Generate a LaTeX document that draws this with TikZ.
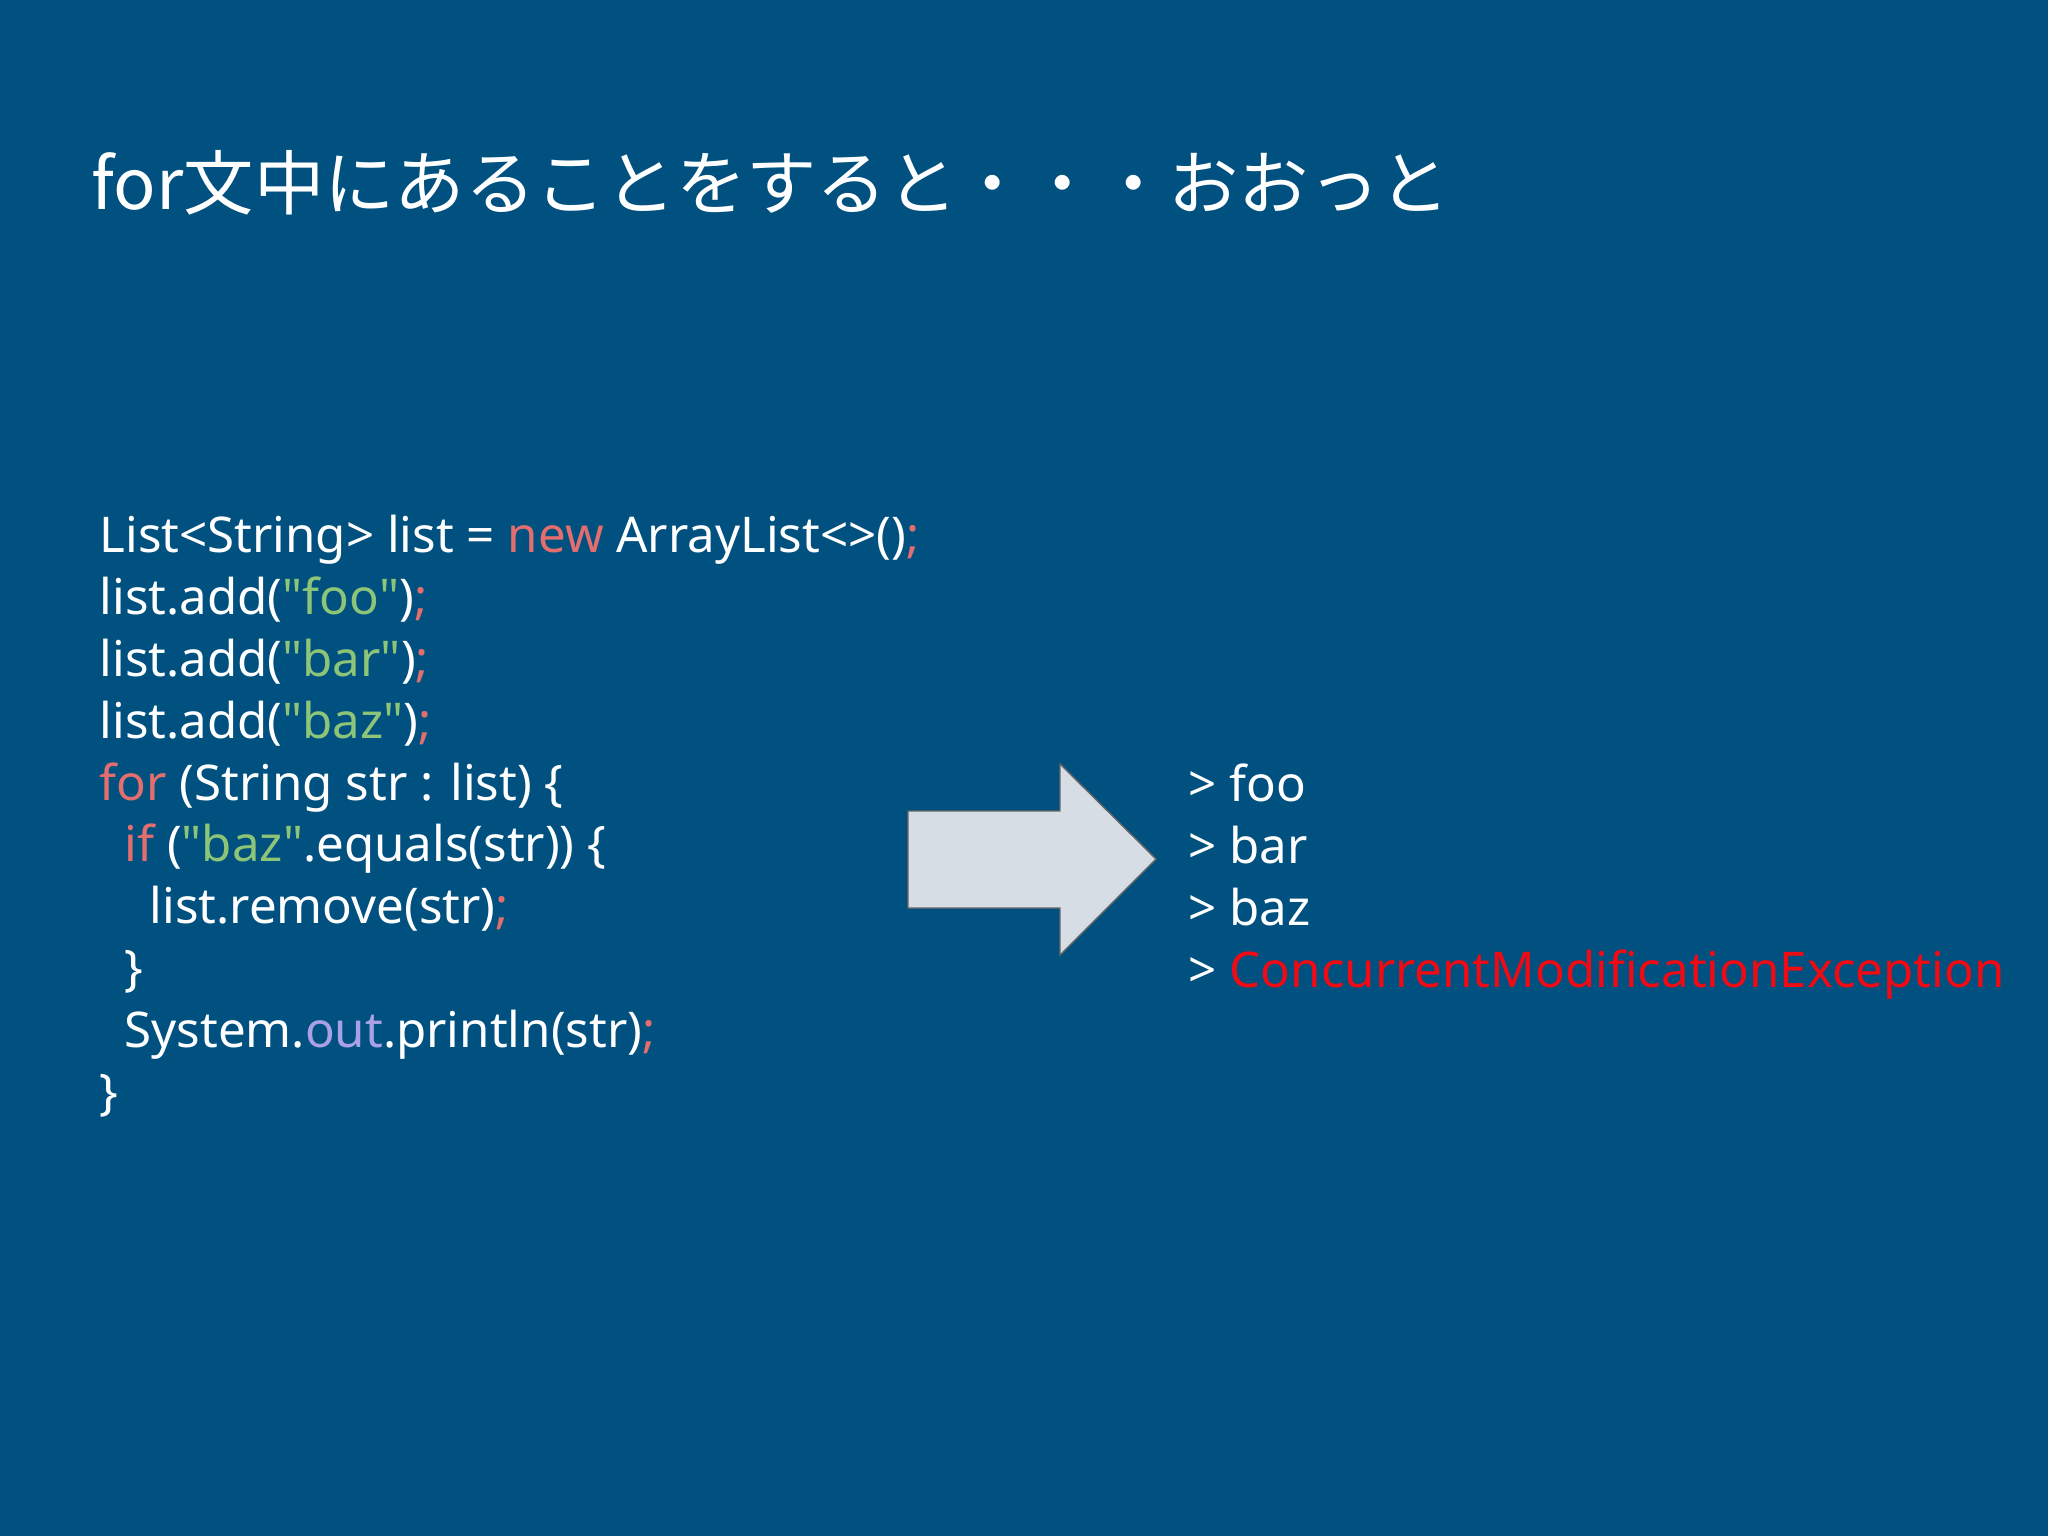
\documentclass[tikz,border=0pt]{standalone}
\usepackage{fontspec}
\setsansfont{Noto Sans}[Ligatures=ResetAll]
\newfontfamily\cjk{Noto Sans CJK JP}
\usetikzlibrary{positioning}
\definecolor{bg}{RGB}{0,80,128}
\definecolor{kw}{RGB}{226,110,110}
\definecolor{str}{RGB}{140,196,120}
\definecolor{fld}{RGB}{170,160,230}
\definecolor{err}{RGB}{240,10,20}
\definecolor{arr}{RGB}{214,221,228}
\newcommand{\K}[1]{\textcolor{kw}{#1}}
\newcommand{\St}[1]{\textcolor{str}{\textquotedbl#1\textquotedbl}}
\begin{document}
\begin{tikzpicture}[x=0.01cm,y=-0.01cm,
      code/.style={anchor=base west,inner sep=0pt,text=white,font=\sffamily\fontsize{14pt}{17pt}\selectfont},
      ]
        \fill [bg] (0,0) rectangle (2048,1536);
        \useasboundingbox (0,0) rectangle (2048,1536);
        % title
        \node [code,font=\cjk\fontsize{20pt}{24pt}\selectfont] (title) at (91,209)
          {for文中にあることをすると・・・おおっと};
        % code
        \node [code] (l1) at (99,552) {List<String> list = \K{new} ArrayList<>()\K{;}};
        \node [code] (l2) at (99,614) {list.add(\St{foo})\K{;}};
        \node [code] (l3) at (99,676) {list.add(\St{bar})\K{;}};
        \node [code] (l4) at (99,738) {list.add(\St{baz})\K{;}};
        \node [code] (l5) at (99,800) {\K{for} (String str : list) \{};
        \node [code] (l6) at (124,861) {\K{if} (\St{baz}.equals(str)) \{};
        \node [code] (l7) at (149,923) {list.remove(str)\K{;}};
        \node [code] (l8) at (124,985) {\}};
        \node [code] (l9) at (124,1047) {System.\textcolor{fld}{out}.println(str)\K{;}};
        \node [code] (l10) at (99,1109) {\}};
        % arrow
        \filldraw [fill=arr,draw=black!60,thin]
          (908,811) -- (1060,811) -- (1060,764) -- (1156,859)
          -- (1060,955) -- (1060,908) -- (908,908) -- cycle;
        % output
        \node [code] (o1) at (1188,801) {> foo};
        \node [code] (o2) at (1188,863) {> bar};
        \node [code] (o3) at (1188,925) {> baz};
        \node [code] (o4) at (1188,987) {> \textcolor{err}{ConcurrentModificationException}};
      \end{tikzpicture}
\end{document}
